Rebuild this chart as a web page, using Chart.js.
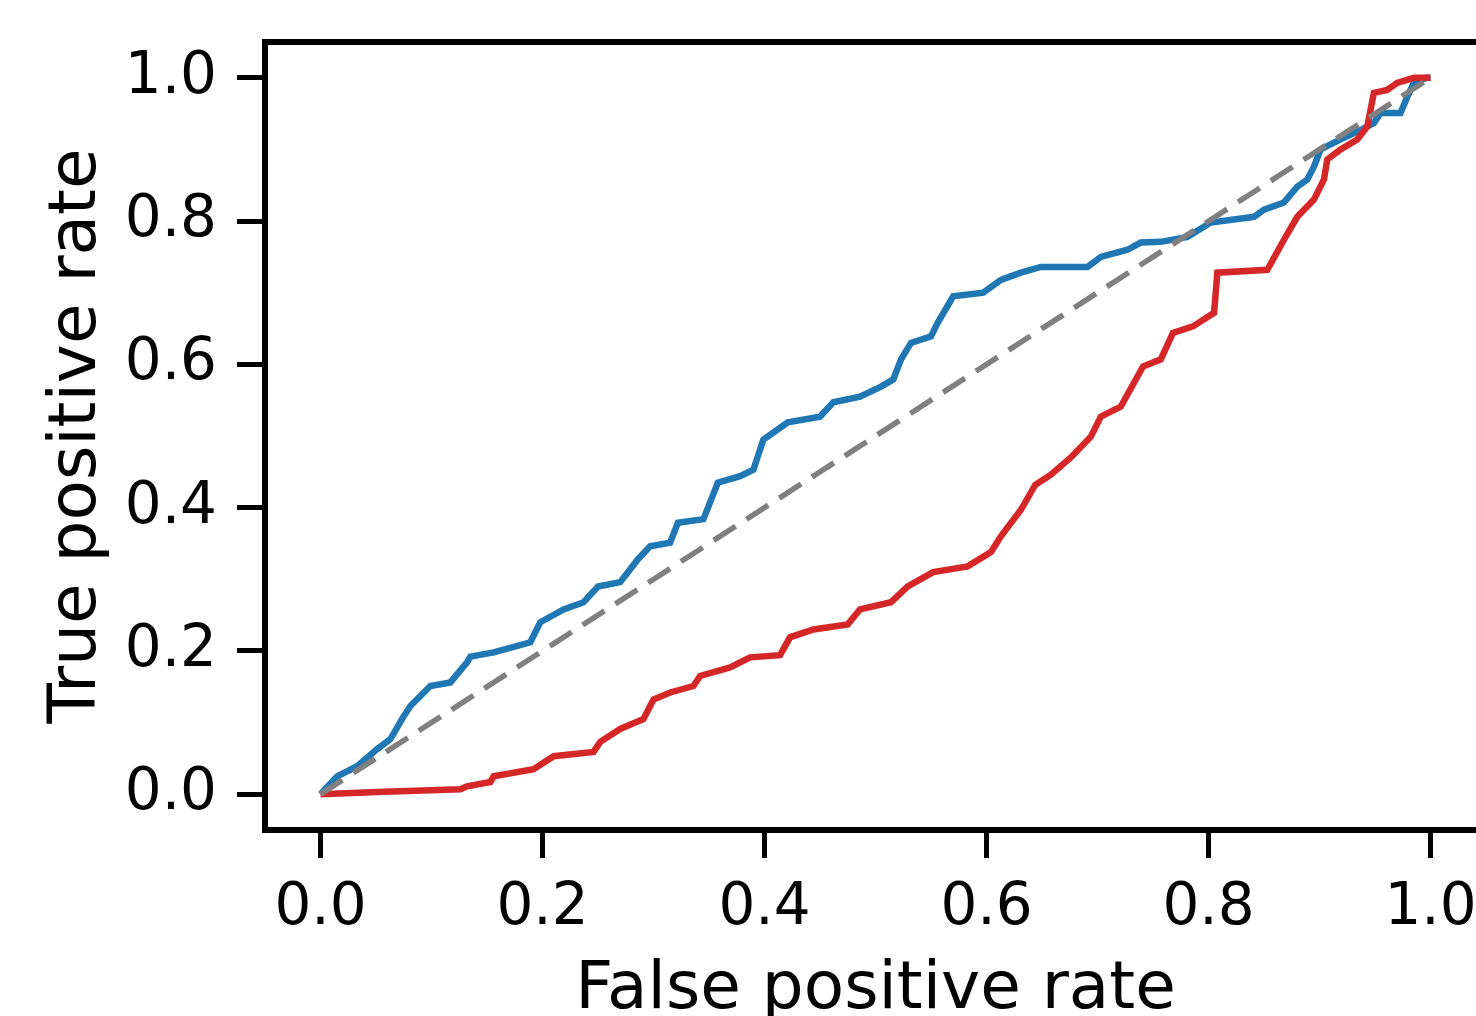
<!DOCTYPE html>
<html>
<head>
<meta charset="utf-8">
<title>ROC</title>
<script src="https://cdn.jsdelivr.net/npm/chart.js@4.4.0/dist/chart.umd.min.js"></script>
<style>
  html, body { margin: 0; padding: 0; background: #fff; overflow: hidden; }
  #wrap { width: 1500px; height: 1016px; }
</style>
</head>
<body>
<div id="wrap"><canvas id="chart" width="1500" height="1016"></canvas></div>
<script>
'use strict';

// axis ticks
const tickValues = [0, 0.2, 0.4, 0.6, 0.8, 1.0];

// blue curve
const fprBlue = [0, 0.015, 0.033, 0.051, 0.063, 0.075, 0.081, 0.099, 0.117, 0.132, 0.135, 0.156, 0.189, 0.198,
  0.219, 0.237, 0.250, 0.270, 0.279, 0.286, 0.297, 0.315, 0.322, 0.345, 0.358, 0.378, 0.390, 0.399, 0.421,
  0.450, 0.462, 0.486, 0.505, 0.516, 0.523, 0.532, 0.550, 0.556, 0.570, 0.597, 0.613, 0.631, 0.649, 0.691,
  0.703, 0.727, 0.739, 0.757, 0.781, 0.802, 0.841, 0.850, 0.868, 0.880, 0.889, 0.895, 0.901, 0.919, 0.937,
  0.949, 0.955, 0.973, 0.979, 0.985, 0.997, 1.0];
const tprBlue = [0, 0.025, 0.039, 0.063, 0.077, 0.109, 0.123, 0.151, 0.156, 0.184, 0.192, 0.198, 0.212, 0.240,
  0.258, 0.268, 0.290, 0.296, 0.314, 0.328, 0.346, 0.351, 0.379, 0.384, 0.435, 0.444, 0.453, 0.495, 0.519,
  0.527, 0.547, 0.555, 0.569, 0.579, 0.607, 0.630, 0.639, 0.658, 0.695, 0.700, 0.718, 0.728, 0.736, 0.736,
  0.750, 0.760, 0.770, 0.771, 0.778, 0.798, 0.806, 0.816, 0.826, 0.848, 0.858, 0.876, 0.900, 0.914, 0.927,
  0.937, 0.951, 0.951, 0.973, 0.993, 1.0, 1.0];

// red curve
const fprRed = [0, 0.051, 0.126, 0.132, 0.153, 0.156, 0.192, 0.210, 0.246, 0.252, 0.270, 0.291, 0.300, 0.315,
  0.336, 0.342, 0.369, 0.387, 0.414, 0.423, 0.444, 0.475, 0.486, 0.514, 0.529, 0.552, 0.583, 0.604, 0.613,
  0.631, 0.644, 0.658, 0.676, 0.694, 0.703, 0.721, 0.741, 0.757, 0.768, 0.786, 0.805, 0.808, 0.853, 0.868,
  0.880, 0.895, 0.904, 0.907, 0.919, 0.934, 0.943, 0.949, 0.961, 0.970, 0.985, 1.0];
const tprRed = [0, 0.003, 0.007, 0.011, 0.017, 0.025, 0.035, 0.053, 0.059, 0.073, 0.091, 0.105, 0.132, 0.142,
  0.151, 0.165, 0.177, 0.191, 0.194, 0.219, 0.230, 0.237, 0.258, 0.268, 0.290, 0.310, 0.318, 0.338, 0.360,
  0.397, 0.432, 0.446, 0.470, 0.499, 0.527, 0.541, 0.597, 0.607, 0.644, 0.653, 0.672, 0.728, 0.732, 0.774,
  0.806, 0.830, 0.858, 0.886, 0.900, 0.914, 0.932, 0.979, 0.983, 0.993, 1.0, 1.0];

// chance line
const chanceX = [0, 1];
const chanceY = [0, 1];

function toPoints(xs, ys) {
  let pts = [];
  for (let i = 0; i < xs.length; i++) {
    pts.push({ x: xs[i], y: ys[i] });
  }
  return pts;
}

// frame round the plot area (top/right sides too, like matplotlib)
const framePlugin = {
  id: 'frame',
  afterDraw(chart) {
    const a = chart.chartArea;
    const ctx = chart.ctx;
    ctx.save();
    ctx.strokeStyle = '#000';
    ctx.lineWidth = 6;
    ctx.strokeRect(a.left, a.top, a.right - a.left, a.bottom - a.top);
    ctx.restore();
  }
};

function axis(title, pos) {
  return {
    type: 'linear',
    position: pos,
    min: -0.05,
    max: 1.05,
    afterBuildTicks: (scale) => { scale.ticks = tickValues.map(v => ({ value: v })); },
    afterFit: (scale) => {
      if (pos === 'left') {
        scale.width = 265;
        scale.paddingTop = 0;
        scale.paddingBottom = 0;
      } else {
        scale.height = 186;
        scale.paddingLeft = 0;
        scale.paddingRight = 0;
      }
    },
    grid: {
      drawOnChartArea: false,
      drawTicks: true,
      tickLength: 28,
      tickWidth: 5,
      tickColor: '#000'
    },
    border: { display: false },
    ticks: {
      color: '#000',
      font: { family: 'DejaVu Sans', size: 58 },
      padding: pos === 'left' ? 20 : 16,
      maxRotation: 0,
      autoSkip: false,
      callback: (v) => Number(v).toFixed(1)
    },
    title: {
      display: true,
      text: title,
      color: '#000',
      font: { family: 'DejaVu Sans', size: 66 },
      padding: pos === 'left' ? { top: 38, bottom: 0 } : { top: 0, bottom: -14 }
    }
  };
}

function renderChart() {
  const ctx = document.getElementById('chart');
  new Chart(ctx, {
    type: 'scatter',
    data: {
      datasets: [
        {
          label: 'chance',
          data: toPoints(chanceX, chanceY),
          showLine: true,
          borderColor: '#808080',
          borderWidth: 5.5,
          borderDash: [26, 13],
          pointRadius: 0,
          order: 0
        },
        {
          label: 'red',
          data: toPoints(fprRed, tprRed),
          showLine: true,
          borderColor: '#d62728',
          borderWidth: 6.5,
          pointRadius: 0,
          order: 1
        },
        {
          label: 'blue',
          data: toPoints(fprBlue, tprBlue),
          showLine: true,
          borderColor: '#1f77b4',
          borderWidth: 6.5,
          pointRadius: 0,
          order: 2
        }
      ]
    },
    options: {
      responsive: false,
      animation: false,
      devicePixelRatio: 1,
      layout: { padding: { top: 42, right: 14, left: 0, bottom: 0 } },
      plugins: {
        legend: { display: false },
        tooltip: { enabled: false }
      },
      scales: {
        x: axis('False positive rate', 'bottom'),
        y: axis('True positive rate', 'left')
      }
    },
    plugins: [framePlugin]
  });
}
renderChart();
</script>
</body>
</html>
